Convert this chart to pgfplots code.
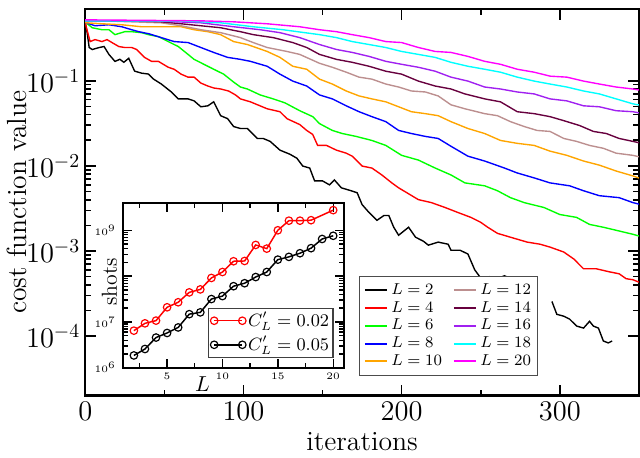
\documentclass[border=0pt]{standalone}
\usepackage{pgfplots}
\pgfplotsset{compat=1.18}
\definecolor{cGreen}{RGB}{0,255,0}
\definecolor{cOrange}{RGB}{255,165,0}
\definecolor{cRosy}{RGB}{188,143,143}
\definecolor{cMaroon}{RGB}{103,0,62}
\definecolor{cPurple}{RGB}{160,32,240}
\definecolor{cCyan}{RGB}{0,255,255}
\definecolor{cMagenta}{RGB}{255,0,255}

\begin{document}
\begin{tikzpicture}
\begin{axis}[
  name=main,
  scale only axis, width=280pt, height=195.5pt,
  xmin=0, xmax=350,
  ymode=log, ymin=2e-5, ymax=0.7,
  xtick={0,100,200,300}, minor xtick={50,150,250,350},
  ytick={1e-4,1e-3,1e-2,1e-1},
  axis line style={line width=1.1pt},
  tick style={line width=0.8pt, black},
  major tick length=5.5pt, minor tick length=3pt,
  xlabel={iterations}, ylabel={cost function value},
  tick label style={font=\fontsize{14}{16}\selectfont},
  label style={font=\fontsize{14}{16}\selectfont},
  yticklabel style={xshift=1pt},
  xlabel style={yshift=1pt},
  ylabel style={yshift=-7pt},
  unbounded coords=jump,
  every axis plot/.append style={line width=0.7pt},
  legend columns=5, transpose legend,
  legend cell align=left,
  legend style={at={(0.495,0.051)}, anchor=south west,
    draw=black!70, line width=0.6pt, inner sep=2pt,
    nodes={inner sep=1.5pt},
    font=\fontsize{8.3}{9}\selectfont,
    /tikz/every even column/.append style={column sep=4pt},
    row sep=-1pt},
  legend image code/.code={\draw[line width=1pt] plot coordinates {(0cm,0cm) (0.4cm,0cm)};},
  after end axis/.code={\path (rel axis cs:0,1) ++(0,4.5pt);},
]
% L = 2
\addplot[black] coordinates {
(0,0.48)(1.2,0.368)(2.5,0.246)(4.4,0.233)(8.8,0.246)(11.9,0.253)(15,0.204)
(18.8,0.169)(21.9,0.179)(24.4,0.165)(27.5,0.184)(31.2,0.130)(35.6,0.123)
(40,0.120)(43.1,0.105)(48.1,0.0916)(54.4,0.0740)(58.8,0.0613)(65,0.0613)
(68.8,0.0581)(73.1,0.0495)(77.5,0.0508)(81.2,0.0566)(85.6,0.0389)(90,0.0359)
(93.8,0.0290)(98.1,0.0275)(102.5,0.0275)(108.8,0.0210)(112.5,0.0210)
(116.9,0.0194)(123.1,0.0153)(129.4,0.0137)(133.8,0.0123)(137.5,0.00995)
(141.9,0.00943)(145,0.00666)(150,0.00666)(154.4,0.00598)(157.5,0.00684)
(161.9,0.00552)(168.1,0.00510)(171.9,0.00483)(175,0.00351)(179.4,0.00283)
(184.4,0.00229)(188.8,0.00261)(191.9,0.00261)(195,0.00190)(198.1,0.00153)
(204.4,0.00190)(208.8,0.00145)(213.8,0.00130)(216.9,0.00117)(223.1,0.00127)
(229.4,0.00120)(231.2,0.00102)(236.9,0.00102)(241.9,0.000921)(246.2,0.000600)
(249.4,0.000498)(252.5,0.000472)(255.6,0.000498)(260.6,0.000472)(265,0.000511)
(268.8,0.000472)(271.9,0.000472)(272,nan)
(295,0.000255)(296.2,0.000223)(298.1,0.000180)(302.5,0.000171)(306.2,0.000158)
(310.6,0.000131)(315,0.000124)(318.8,0.000149)(321.2,0.000131)(324.4,0.000124)
(327.5,0.0000875)(330.6,0.0000830)(333.1,0.0000875)
};
% L = 4
\addplot[red] coordinates {
(0,0.4935)(0.6,0.4318)(3.1,0.2891)(6.2,0.3050)(10.6,0.2891)(13.8,0.3050)
(16.9,0.2815)(21.2,0.2529)(25,0.2462)(29.4,0.2462)(32.5,0.2334)(37.5,0.1885)
(41.9,0.1694)(46.2,0.1694)(52.5,0.1442)(56.2,0.1367)(60.6,0.1197)(65,0.1104)
(68.8,0.1104)(73.1,0.0940)(77.5,0.0868)(81.2,0.0823)(85.6,0.0801)(90.6,0.0759)
(95,0.0682)(98.1,0.0613)(104.4,0.0566)(115,0.0469)(123.1,0.0433)(127.5,0.0359)
(135.6,0.0306)(140,0.0261)(143.8,0.0234)(146.9,0.0174)(152.5,0.0174)
(158.8,0.0153)(165,0.0141)(168.8,0.0130)(175,0.00995)(181.2,0.00943)
(187.5,0.00782)(193.8,0.00631)(198.1,0.00552)(210.6,0.00401)(218.8,0.00370)
(227.5,0.00324)(235.6,0.00283)(243.8,0.00248)(250,0.00217)(254.4,0.00190)
(260.6,0.00161)(268.8,0.00145)(279.4,0.00127)(287.5,0.00120)(293.8,0.00111)
(302.5,0.000971)(308.8,0.000805)(315,0.000617)(323.1,0.000617)(331.2,0.000569)
(337.5,0.000539)(341.9,0.000472)(346.2,0.000459)(350,0.00043)
};
% L = 6
\addplot[cGreen] coordinates {
(0,0.4935)(0.6,0.4805)(4.4,0.4204)(10.6,0.3985)(15,0.3985)(18.8,0.3487)
(25,0.3778)(29.4,0.3778)(35.6,0.3679)(40,0.3487)(46.2,0.3304)(52.5,0.2891)
(58.8,0.2529)(65,0.2042)(68.8,0.1787)(75,0.1563)(81.2,0.1367)(87.5,0.1197)
(93.8,0.0966)(98.1,0.0845)(102.5,0.0801)(110.6,0.0682)(118.8,0.0613)
(126.2,0.0551)(135.6,0.0445)(143.8,0.0379)(148.1,0.0314)(156.2,0.0261)
(162.5,0.0240)(171.2,0.0222)(181.2,0.0199)(190,0.0174)(200,0.0133)
(210.6,0.0117)(221.2,0.00943)(231.2,0.00782)(240,0.00631)(252.5,0.00583)
(260.6,0.00510)(268.8,0.00423)(277.5,0.00370)(290,0.00324)(300,0.00268)
(310.6,0.00248)(318.8,0.00205)(327.5,0.00190)(335.6,0.00175)(346.2,0.00157)
(350,0.00150)
};
% L = 8
\addplot[blue] coordinates {
(0,0.4935)(0.6,0.4805)(6.2,0.4435)(15,0.4556)(23.1,0.4318)(29.4,0.3985)
(33.8,0.3778)(40,0.3581)(48.1,0.3218)(56.2,0.2891)(65,0.2815)(73.1,0.2462)
(81.2,0.2155)(90,0.1885)(98.1,0.1787)(104.4,0.1694)(115,0.1482)(123.1,0.1197)
(131.2,0.0992)(140,0.0868)(148.1,0.0682)(156.2,0.0613)(165,0.0508)
(173.1,0.0433)(181.2,0.0379)(190,0.0331)(198.1,0.0261)(206.2,0.0240)
(215,0.0222)(223.1,0.0210)(231.2,0.0170)(241.9,0.0130)(252.5,0.0114)
(265,0.00943)(273.1,0.00825)(283.8,0.00722)(293.8,0.00631)(306.2,0.00583)
(315,0.00510)(325,0.00446)(337.5,0.00423)(346.2,0.00370)(350,0.00355)
};
% L = 10
\addplot[cOrange] coordinates {
(0,0.4935)(0.6,0.4805)(10.6,0.468)(23.1,0.4556)(35.6,0.4318)(52.5,0.4318)
(60.6,0.4318)(68.8,0.3985)(77.5,0.3778)(85.6,0.3487)(93.8,0.2891)(102.5,0.2669)
(115,0.2213)(123.1,0.1885)(131.2,0.1482)(140,0.1367)(148.1,0.1046)(156.2,0.0916)
(165,0.0759)(173.1,0.0664)(181.2,0.0613)(190,0.0566)(198.1,0.0495)(206.2,0.0433)
(215,0.0411)(223.1,0.0389)(231.2,0.0331)(241.9,0.0275)(252.5,0.0240)
(262.5,0.0199)(273.1,0.0184)(283.8,0.0174)(293.8,0.0149)(304.4,0.0133)
(315,0.0114)(325,0.0102)(335.6,0.00870)(346.2,0.00762)(350,0.0072)
};
% L = 12
\addplot[cRosy] coordinates {
(0,0.507)(10.6,0.507)(29.4,0.4935)(48.1,0.4805)(60.6,0.4435)(73.1,0.3985)
(85.6,0.3679)(98.1,0.3218)(106.2,0.2815)(115,0.2462)(127.5,0.2213)(135.6,0.2042)
(148.1,0.1606)(156.2,0.1442)(165,0.1262)(173.1,0.1104)(181.2,0.1046)(190,0.0916)
(198.1,0.0845)(206.2,0.0759)(215,0.0739)(223.1,0.0664)(231.2,0.0522)(240,0.0469)
(252.5,0.0411)(260.6,0.0389)(268.8,0.0331)(277.5,0.0290)(285.6,0.0261)
(293.8,0.0254)(302.5,0.0210)(310.6,0.0194)(318.8,0.0174)(327.5,0.0161)
(335.6,0.0141)(346.2,0.0133)(350,0.0128)
};
% L = 14
\addplot[cMaroon] coordinates {
(0,0.507)(29.4,0.507)(48.1,0.4935)(60.6,0.468)(73.1,0.4435)(85.6,0.4204)
(98.1,0.3778)(106.2,0.3487)(118.8,0.3218)(131.2,0.2815)(140,0.2462)(148.1,0.2042)
(158.8,0.1787)(168.8,0.1649)(179.4,0.1482)(190,0.1296)(200,0.1197)(210.6,0.0992)
(221.2,0.0868)(231.2,0.0801)(240,0.0701)(252.5,0.0613)(262.5,0.0566)
(273.1,0.0433)(283.8,0.0411)(293.8,0.0379)(302.5,0.0340)(312.5,0.0298)
(321.2,0.0254)(329.4,0.0240)(337.5,0.0210)(346.2,0.0194)(350,0.0187)
};
% L = 16
\addplot[cPurple] coordinates {
(0,0.507)(41.9,0.507)(73.1,0.4805)(93.8,0.4318)(110.6,0.3985)(123.1,0.3679)
(135.6,0.3218)(148.1,0.2669)(158.8,0.2334)(168.8,0.2155)(179.4,0.1936)
(190,0.1694)(200,0.1563)(210.6,0.1442)(221.2,0.1296)(231.2,0.1104)(241.9,0.0992)
(252.5,0.0845)(262.5,0.0801)(273.1,0.0739)(283.8,0.0701)(293.8,0.0613)
(304.4,0.0581)(315,0.0508)(325,0.0495)(335.6,0.0445)(346.2,0.0433)(350,0.0420)
};
% L = 18
\addplot[cCyan] coordinates {
(0,0.507)(60.6,0.507)(85.6,0.4805)(106.2,0.4318)(125,0.3985)(148.1,0.3487)
(158.8,0.3218)(168.8,0.2891)(179.4,0.2669)(190,0.2462)(200,0.2213)(210.6,0.2042)
(221.2,0.1885)(231.2,0.1649)(241.9,0.1482)(252.5,0.1367)(262.5,0.1262)
(273.1,0.1104)(283.8,0.0992)(293.8,0.0916)(304.4,0.0845)(315,0.0759)
(325,0.0701)(335.6,0.0613)(346.2,0.0536)(350,0.0520)
};
% L = 20
\addplot[cMagenta] coordinates {
(0,0.5206)(73.1,0.507)(93.8,0.4935)(115,0.468)(135.6,0.4318)(148.1,0.3985)
(158.8,0.3778)(168.8,0.3487)(179.4,0.3218)(190,0.2891)(200,0.2815)(210.6,0.2462)
(221.2,0.2213)(231.2,0.2155)(241.9,0.1936)(252.5,0.1694)(262.5,0.1563)
(273.1,0.1367)(283.8,0.1262)(293.8,0.1134)(304.4,0.1104)(315,0.0992)
(325,0.0916)(335.6,0.0845)(346.2,0.0801)(350,0.078)
};
\legend{$L=2$,$L=4$,$L=6$,$L=8$,$L=10$,$L=12$,$L=14$,$L=16$,$L=18$,$L=20$}
\end{axis}

\begin{axis}[
  at={(main.south west)}, anchor=south west, xshift=19pt, yshift=14pt,
  scale only axis, width=112pt, height=83.5pt,
  axis background/.style={fill=white},
  xmin=1, xmax=21,
  ymode=log, ymin=1e6, ymax=4e9,
  xtick={5,10,15,20}, minor xtick={2.5,7.5,12.5,17.5},
  ytick={1e6,1e7,1e8,1e9},
  yticklabels={$10^{6}$,$10^{7}$,{},$10^{9}$},
  axis line style={line width=1pt},
  tick style={line width=0.7pt, black},
  major tick length=4.5pt, minor tick length=2.5pt,
  tick label style={font=\fontsize{5.5}{6}\selectfont},
  xticklabel style={yshift=1pt},
  xlabel={$L$},
  xlabel style={at={(axis description cs:0.36,0)}, anchor=north, yshift=-1pt,
    font=\fontsize{11}{12}\selectfont},
  ylabel={shots},
  ylabel style={at={(axis description cs:-0.06,0.52)}, anchor=center,
    font=\fontsize{11}{12}\selectfont},
  legend cell align=left,
  legend style={at={(0.384,0.06)}, anchor=south west,
    draw=black!75, line width=0.6pt, inner sep=1pt,
    nodes={inner sep=1pt},
    font=\fontsize{9}{10}\selectfont, row sep=1.5pt},
  legend image code/.code={\draw plot coordinates {(0cm,0cm) (0.5cm,0cm)};},
  every axis plot/.append style={line width=0.75pt,
    mark=o, mark size=1.9pt, mark options={fill=white, line width=0.6pt}},
]
\addplot[red] coordinates {
(2,6.46e6)(3,9.33e6)(4,1.07e7)(5,2.09e7)(6,2.69e7)(7,4.42e7)(8,5.13e7)
(9,9.12e7)(10,1.23e8)(11,2.11e8)(12,2.14e8)(13,4.79e8)(14,3.98e8)(15,1.0e9)
(16,1.62e9)(17,1.62e9)(18,1.66e9)(20,2.75e9)
};
\addplot[black] coordinates {
(2,1.86e6)(3,2.57e6)(4,4.57e6)(5,5.75e6)(6,7.59e6)(7,1.48e7)(8,1.62e7)
(9,3.16e7)(10,3.67e7)(11,6.03e7)(12,7.0e7)(13,9.55e7)(14,1.23e8)(15,2.29e8)
(16,2.63e8)(17,3.16e8)(18,4.07e8)(19,6.46e8)(20,7.59e8)
};
\legend{$C'_L=0.02$,$C'_L=0.05$}
\end{axis}
\end{tikzpicture}
\end{document}
